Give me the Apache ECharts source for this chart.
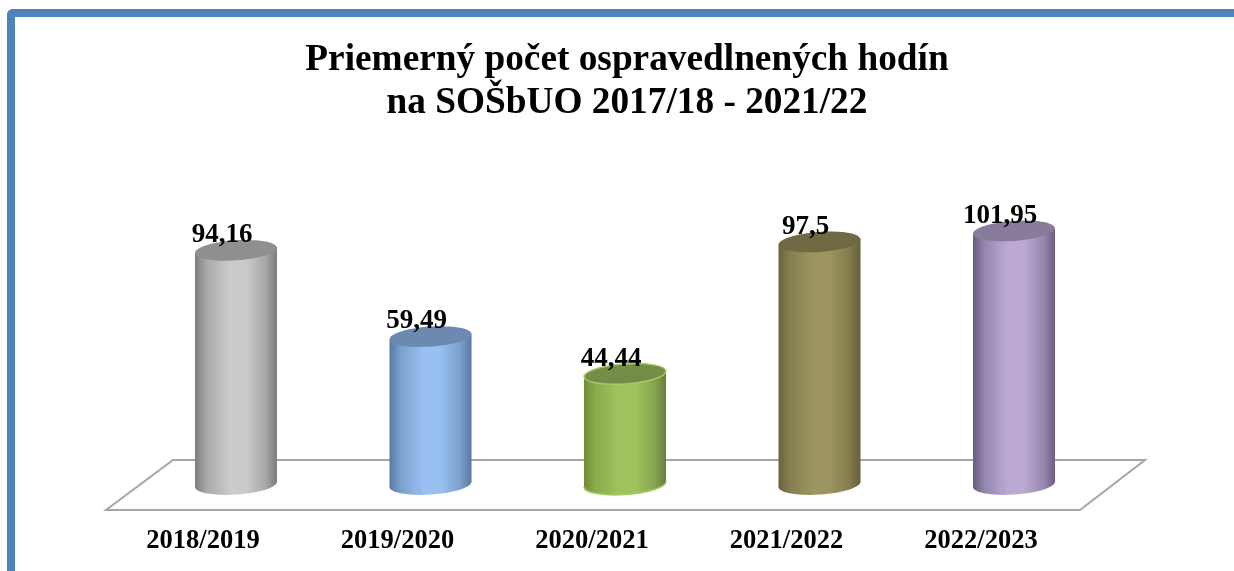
<!DOCTYPE html>
<html>
<head>
<meta charset="utf-8">
<title>Priemerný počet ospravedlnených hodín</title>
<script src="https://cdn.jsdelivr.net/npm/echarts@6/dist/echarts.min.js"></script>
<style>
  html, body { margin: 0; padding: 0; background: #fff; overflow: hidden; }
  #frame {
    position: absolute; left: 7px; top: 9px; width: 1227px; height: 562px;
    box-sizing: border-box; border-left: 8px solid #4f81bd; border-top: 8px solid #4f81bd;
    border-top-left-radius: 6px;
  }
  #chart { position: absolute; left: 0; top: 0; width: 1234px; height: 571px; }
</style>
</head>
<body>
<div id="frame"></div>
<div id="chart"></div>
<script>
const categories = ['2018/2019', '2019/2020', '2020/2021', '2021/2022', '2022/2023'];
const hours = [94.16, 59.49, 44.44, 97.5, 101.95];
const titleLines = ['Priemerný počet ospravedlnených hodín', 'na SOŠbUO 2017/18 - 2021/22'];

// edge, middle, edge, top cap, rim
const barColors = [
  ['#7d7d7d', '#cbcbcb', '#7b7b7b', '#8f8f8f', null],
  ['#577aa3', '#99c0f2', '#58789e', '#6c8ab0', null],
  ['#6f8c38', '#a0c25e', '#65803a', '#738c47', '#a6cb62'],
  ['#69633c', '#9c9560', '#665f3a', '#6f6a43', null],
  ['#665b7f', '#bba9d4', '#6a5f82', '#887b9c', null]
];

const FONT = '"Liberation Serif", "Times New Roman", serif';
const TILT = 4 * Math.PI / 180;

function renderCylinder(params, api) {
  const i = api.value(0);
  const top = api.coord([i, api.value(1)]);
  const base = api.coord([i, 0]);
  const rx = 41;
  const ry = 10;
  const dy = rx * Math.sin(TILT);
  const c = barColors[i];
  const side = new echarts.graphic.LinearGradient(0, 0, 1, 0, [
    { offset: 0, color: c[0] },
    { offset: 0.14, color: echarts.color.lerp(0.55, [c[0], c[1]]) },
    { offset: 0.42, color: c[1] },
    { offset: 0.62, color: c[1] },
    { offset: 0.86, color: echarts.color.lerp(0.55, [c[2], c[1]]) },
    { offset: 1, color: c[2] }
  ]);
  return {
    type: 'group',
    children: [
      {
        type: 'ellipse',
        x: base[0], y: base[1], rotation: TILT,
        shape: { cx: 0, cy: 0, rx: rx, ry: ry },
        style: { fill: side, stroke: c[4], lineWidth: 1.5 }
      },
      {
        type: 'polygon',
        shape: {
          points: [
            [top[0] - rx, top[1] + dy],
            [top[0] + rx, top[1] - dy],
            [top[0] + rx, base[1] - dy],
            [top[0] - rx, base[1] + dy]
          ]
        },
        style: { fill: side }
      },
      {
        type: 'ellipse',
        x: top[0], y: top[1], rotation: TILT,
        shape: { cx: 0, cy: 0, rx: rx, ry: ry },
        style: { fill: c[3], stroke: c[4], lineWidth: 1.5 }
      },
      {
        type: 'text',
        x: top[0] - 14, y: top[1] - 15,
        style: {
          text: String(api.value(1)).replace('.', ','),
          fill: '#000', font: 'bold 27px ' + FONT,
          align: 'center', verticalAlign: 'middle'
        }
      }
    ]
  };
}

const chart = echarts.init(document.getElementById('chart'));
chart.setOption({
  animation: false,
  backgroundColor: 'transparent',
  title: {
    text: titleLines.join('\n'),
    left: 622,
    top: 34,
    textAlign: 'center',
    textStyle: { fontFamily: FONT, fontWeight: 'bold', fontSize: 37.3, lineHeight: 43, color: '#000' }
  },
  grid: { left: 138.75, right: 122.75, top: 186, bottom: 86.5 },
  xAxis: {
    type: 'category',
    data: categories,
    axisLine: { show: false },
    axisTick: { show: false },
    axisLabel: {
      margin: 43,
      padding: [0, 66, 0, 0],
      color: '#000',
      fontFamily: FONT,
      fontWeight: 'bold',
      fontSize: 26.5
    }
  },
  yAxis: { type: 'value', min: 0, max: 120, show: false },
  // floor of the 3d plot
  graphic: [{
    type: 'polygon',
    z: 0,
    shape: { points: [[173, 460], [1145, 460], [1080, 510], [106, 510]] },
    style: { fill: '#fff', stroke: '#a6a6a6', lineWidth: 2 }
  }],
  series: [{
    type: 'custom',
    z: 5,
    renderItem: renderCylinder,
    encode: { x: 0, y: 1 },
    data: hours.map((v, i) => [i, v])
  }]
});
</script>
</body>
</html>
